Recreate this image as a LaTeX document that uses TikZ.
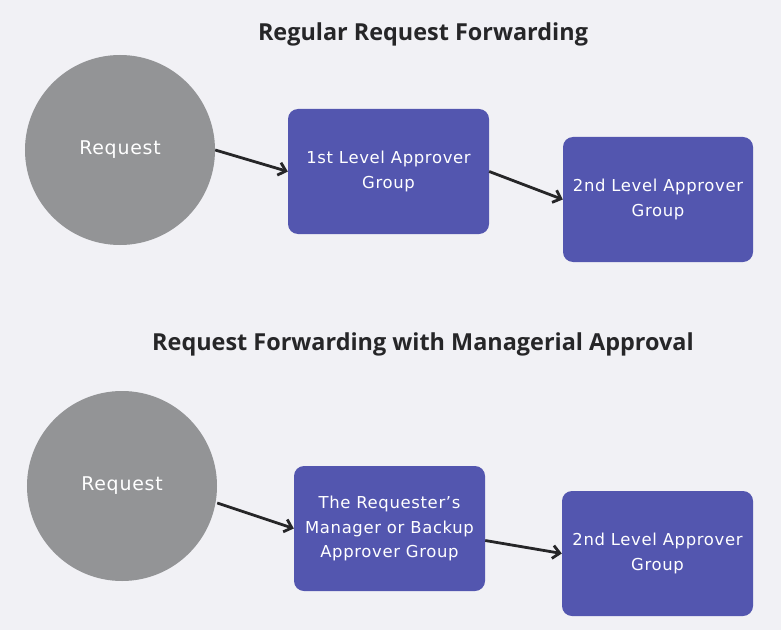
\documentclass[tikz,border=0pt]{standalone}
\usepackage{fontspec}
\setmainfont{DejaVu Sans}[LetterSpace=4]
\newfontfamily\headfont{Open Sans}
\usetikzlibrary{arrows.meta}
\definecolor{bgcol}{RGB}{241,241,245}
\definecolor{boxcol}{RGB}{83,86,175}
\definecolor{reqcol}{RGB}{147,148,150}
\definecolor{inkcol}{RGB}{38,38,40}
\begin{document}
\begin{tikzpicture}[x=1bp, y=-1bp,
    req/.style={circle, fill=reqcol, minimum size=190bp, inner sep=0pt, text=white, font=\fontsize{19}{22}\selectfont},
    grp/.style={rounded corners=10bp, fill=boxcol, minimum width=191bp, minimum height=125bp, inner sep=0pt, align=center, text=white, font=\fontsize{16.5}{25}\selectfont},
    head/.style={text=inkcol, font=\headfont\bfseries\fontsize{23.5}{27}\selectfont},
    flow/.style={-{Straight Barb[length=7bp, width=13bp]}, line width=2.8bp, inkcol}]
    \fill [bgcol] (0, 0) rectangle (781, 630);
    % regular forwarding
    \node [head] (title1) at (423, 34) {Regular Request Forwarding} ;
    \node [req] (req1) at (120, 150) {Request} ;
    \node [grp, minimum width=201bp] (first1) at (388.5, 171.5) {1st Level Approver\\Group} ;
    \node [grp, minimum width=190bp] (second1) at (658, 199.5) {2nd Level Approver\\Group} ;
    \draw [flow] (req1.east) -- (first1.west);
    \draw [flow] (first1.east) -- (second1.west);
    % managerial approval
    \node [head] (title2) at (423, 344) {Request Forwarding with Managerial Approval} ;
    \node [req] (req2) at (122, 486) {Request} ;
    \node [grp] (mgr2) at (389.5, 528.5) {The Requester's\\Manager or Backup\\Approver Group} ;
    \node [grp] (second2) at (657.5, 553.5) {2nd Level Approver\\Group} ;
    \draw [flow] (req2.east) ++(0, 17) -- (mgr2.west);
    \draw [flow] (mgr2.east) ++(0, 12) -- (second2.west);
  \end{tikzpicture}
\end{document}
